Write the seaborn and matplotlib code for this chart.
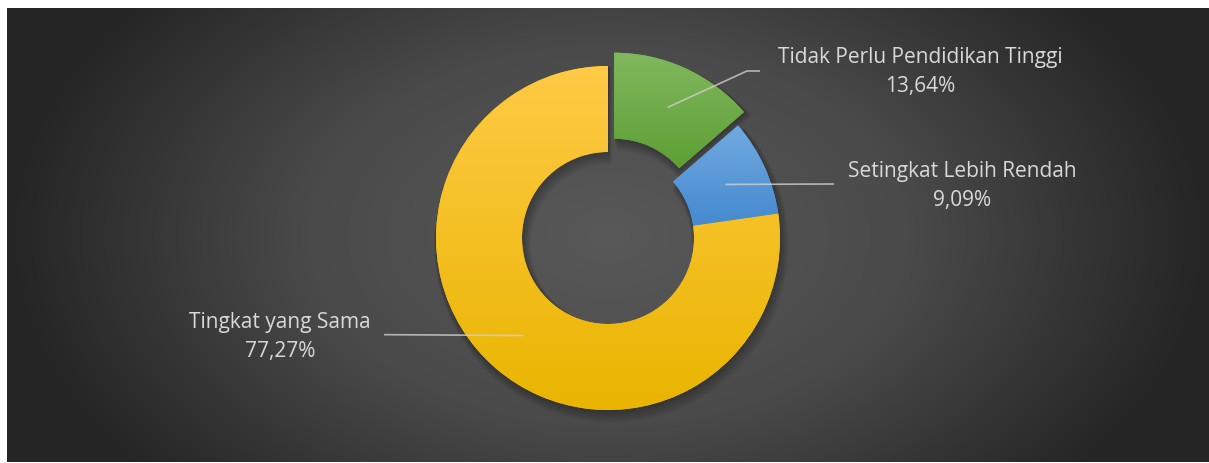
import numpy as np
import matplotlib
matplotlib.use("Agg")
import matplotlib.pyplot as plt
import matplotlib.colors as mcolors
from matplotlib.patches import Wedge
import seaborn as sns

# data
labels = ["Tidak Perlu Pendidikan Tinggi", "Setingkat Lebih Rendah", "Tingkat yang Sama"]
shares = [13.64, 9.09, 77.27]
pct_labels = ["13,64%", "9,09%", "77,27%"]
explode = [0.085, 0, 0]
top_colors = ["#80b85e", "#72aae0", "#ffca45"]
bottom_colors = ["#5e9f35", "#4489cf", "#e9b500"]

# label layout (pie units, radius = 1)
text_pos = [(1.814, 0.965), (2.058, 0.302), (-1.907, -0.576)]
line_end = [[(0.808, 0.971), (0.884, 0.971)], [(1.314, 0.314)], [(-1.302, -0.562)]]

sns.set_style("dark")
plt.rcParams["font.family"] = ["Open Sans", "DejaVu Sans"]

W, H = 1209, 463
fig = plt.figure(figsize=(W / 100, H / 100), dpi=100)
fig.patch.set_facecolor("white")

# dark gradient panel
bg = fig.add_axes([7 / W, 1 / H, 1202 / W, 454 / H])
bg.set_axis_off()
ph, pw = 454, 1202
yy, xx = np.mgrid[0:ph, 0:pw]
r = np.sqrt(((xx - pw / 2) / (pw / 2)) ** 2 + (((yy - ph / 2) / (ph / 2)) * 0.6) ** 2)
r = np.clip(r, 0, 1)
bg_cmap = mcolors.LinearSegmentedColormap.from_list("bg", ["#595959", "#4a4a4a", "#252525"])
bg.imshow(r, cmap=bg_cmap, aspect="auto", vmin=0, vmax=1, interpolation="bilinear")

# donut
R = 172
side = 2.6 * R
ax = fig.add_axes([(608 - side / 2) / W, (H - 238 - side / 2) / H, side / W, side / H])
ax.set_facecolor("none")
ax.set_axis_off()

wedges, _ = ax.pie(shares, explode=explode, startangle=90, counterclock=False,
                   colors=bottom_colors, wedgeprops=dict(width=0.5, linewidth=0))
ax.set_xlim(-1.3, 1.3)
ax.set_ylim(-1.3, 1.3)
ax.set_aspect("equal")

# soft shadow + vertical gradient fill
for w, c_top, c_bot in zip(wedges, top_colors, bottom_colors):
    for k in range(1, 6):
        sh = Wedge(w.center, w.r + 0.006 * k, w.theta1, w.theta2, width=w.width + 0.012 * k,
                   facecolor="black", alpha=0.06, linewidth=0, zorder=0)
        sh.set_center((w.center[0] + 0.004 * k, w.center[1] - 0.008 * k))
        ax.add_patch(sh)
    w.set_zorder(1)
    ext = w.get_path().get_extents()
    grad = np.linspace(1, 0, 256).reshape(-1, 1)
    cmap = mcolors.LinearSegmentedColormap.from_list("g", [c_bot, c_top])
    im = ax.imshow(grad, cmap=cmap, aspect="auto", zorder=2,
                   extent=(ext.x0, ext.x1, ext.y0, ext.y1))
    im.set_clip_path(w)

# labels with leader lines
for w, name, pct, tp, pts in zip(wedges, labels, pct_labels, text_pos, line_end):
    mid = np.deg2rad((w.theta1 + w.theta2) / 2)
    ax0 = w.center[0] + 0.75 * np.cos(mid)
    ay0 = w.center[1] + 0.75 * np.sin(mid)
    xs = [ax0] + [p[0] for p in pts]
    ys = [ay0] + [p[1] for p in pts]
    ax.plot(xs, ys, color="#d0d0d0", alpha=0.8, lw=1.2, zorder=5, clip_on=False,
            solid_capstyle="butt")
    ax.text(tp[0], tp[1], f"{name}\n{pct}", ha="center", va="center", color="#d9d9d9",
            fontsize=15, linespacing=1.55, zorder=6, clip_on=False)

fig.savefig("out.png", dpi=100, facecolor=fig.get_facecolor())
